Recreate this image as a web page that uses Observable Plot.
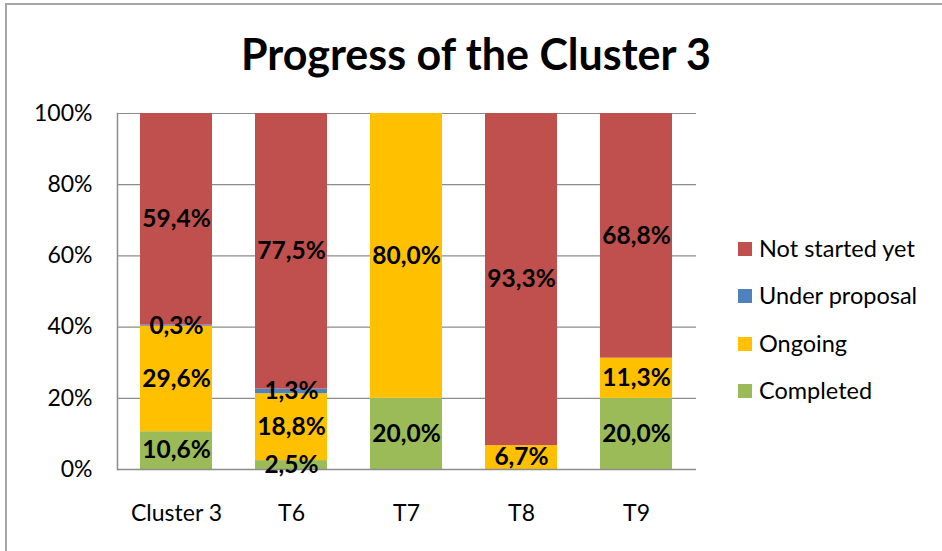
<!DOCTYPE html>
<html><head><meta charset="utf-8">
<script src="https://cdn.jsdelivr.net/npm/d3@7"></script>
<script src="https://cdn.jsdelivr.net/npm/@observablehq/plot@0.6"></script>
<style>
body{margin:0;background:#fff;font-family:Lato,"Open Sans",sans-serif}
#wrap{position:relative;width:942px;height:551px;overflow:hidden;background:#fff}
#border{position:absolute;left:5px;top:3px;width:1000px;height:600px;border:2px solid #a6a6a6;box-sizing:border-box}
#title{position:absolute;left:0;top:24px;width:952px;text-align:center;font-weight:700;font-size:43px;color:#000;line-height:60px}
#chart{position:absolute;left:0;top:0}
#legend{position:absolute;left:738px;top:0}
.li{position:absolute;left:0;white-space:nowrap;font-size:23.5px;color:#000;line-height:26px}
.sw{display:inline-block;width:14px;height:14px;vertical-align:middle;margin-right:7px;position:relative;top:-2px}
</style></head><body>
<div id="wrap">
  <div id="border"></div>
  <div id="chart"></div>
  <div id="title">Progress of the Cluster 3</div>
  <div id="legend"></div>
</div>
<script>
const categories = ["Cluster 3", "T6", "T7", "T8", "T9"];
const series = ["Completed", "Ongoing", "Under proposal", "Not started yet"];
const completed = [10.6, 2.5, 20.0, 0, 20.0];
const ongoing = [29.6, 18.8, 80.0, 6.7, 11.3];
const underProposal = [0.3, 1.3, 0, 0, 0];
const notStarted = [59.4, 77.5, 0, 93.3, 68.8];
const colors = ["#9BBB59", "#FFC000", "#4F81BD", "#C0504D"];
const yTicks = [0, 0.2, 0.4, 0.6, 0.8, 1];

const seriesValues = [completed, ongoing, underProposal, notStarted];
const rows = [];
series.forEach((s, si) => {
  categories.forEach((c, ci) => {
    rows.push({category: c, series: s, value: seriesValues[si][ci]});
  });
});
const fmt = v => v.toFixed(1).replace(".", ",") + "%";

const plot = Plot.plot({
  width: 942,
  height: 551,
  marginTop: 113,
  marginBottom: 82,
  marginLeft: 117,
  marginRight: 246,
  style: {fontFamily: "Lato, 'Open Sans', sans-serif", background: "transparent", overflow: "visible"},
  x: {domain: categories, paddingInner: 0.37, paddingOuter: 0.185, label: null},
  y: {domain: [0, 1], label: null},
  color: {domain: series, range: colors},
  marks: [
    Plot.gridY(yTicks, {stroke: "#8c8c8c", strokeOpacity: 1, strokeWidth: 1.2}),
    Plot.barY(rows, Plot.stackY({x: "category", y: "value", z: "series", fill: "series", offset: "normalize", order: null})),
    Plot.ruleY([0], {stroke: "#8c8c8c", strokeWidth: 1.5}),
    Plot.frame({anchor: "left", stroke: "#8c8c8c", strokeWidth: 1.5}),
    Plot.text(rows.filter(d => d.value > 0), Plot.stackY({x: "category", y: "value", z: "series", offset: "normalize", order: null, text: d => fmt(d.value), fontSize: 24.5, fontWeight: 700, fill: "#000"})),
    Plot.axisY(yTicks, {tickSize: 0, tickPadding: 25, tickFormat: d3.format(".0%"), fontSize: 23, fill: "#000", label: null}),
    Plot.axisX({tickSize: 0, tickPadding: 35, fontSize: 23, fill: "#000", label: null})
  ]
});
document.getElementById("chart").appendChild(plot);

const legend = document.getElementById("legend");
const legendOrder = [...series].reverse();
legendOrder.forEach((s, i) => {
  const el = document.createElement("div");
  el.className = "li";
  el.style.top = (235 + i * 47.3) + "px";
  const sw = document.createElement("span");
  sw.className = "sw";
  sw.style.background = colors[series.indexOf(s)];
  el.appendChild(sw);
  el.appendChild(document.createTextNode(s));
  legend.appendChild(el);
});
</script>
</body></html>
